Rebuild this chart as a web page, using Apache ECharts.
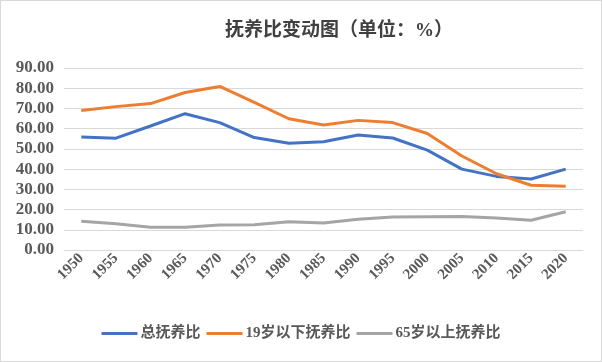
<!DOCTYPE html>
<html><head><meta charset="utf-8">
<script src="https://cdn.jsdelivr.net/npm/echarts@6/dist/echarts.min.js"></script>
<style>html,body{margin:0;padding:0;background:#fff}#c{width:602px;height:362px;box-sizing:border-box;border:1px solid #d9d9d9}</style>
</head><body><div id="c"></div>
<script>
const years = ['1950','1955','1960','1965','1970','1975','1980','1985','1990','1995','2000','2005','2010','2015','2020'];
const total = [55.9,55.3,61.3,67.4,63.0,55.6,52.8,53.5,56.9,55.4,49.4,40.0,36.4,35.1,40.0];
const under19 = [69.0,70.9,72.4,77.9,80.9,73.0,64.9,61.8,64.1,63.0,57.6,46.5,37.7,32.0,31.5];
const over65 = [14.2,13.0,11.3,11.3,12.4,12.5,14.0,13.4,15.2,16.3,16.5,16.6,15.8,14.7,18.9];
const seriesNames = ['总抚养比','19岁以下抚养比','65岁以上抚养比'];
const colors = ['#4472C4','#ED7D31','#A5A5A5'];
const FONT = "'Liberation Serif', 'DejaVu Serif', 'Noto Sans CJK SC', serif";
const chart = echarts.init(document.getElementById('c'));
chart.setOption({
  animation:false,
  title:{text:'抚养比变动图（单位：%）',left:219,top:16,textStyle:{fontFamily:FONT,fontSize:19,fontWeight:'bold',color:'#404040'}},
  grid:{left:63,right:18,top:67,bottom:111,containLabel:false},
  legend:{bottom:15,left:'center',itemWidth:36,itemHeight:3,itemGap:6,icon:'rect',
    textStyle:{fontFamily:FONT,fontSize:15,fontWeight:'bold',color:'#595959',padding:[0,0,0,-2]},
    data:seriesNames},
  xAxis:{type:'category',data:years,boundaryGap:true,
    axisLine:{show:true,lineStyle:{color:'#d9d9d9'}},axisTick:{show:false},
    axisLabel:{rotate:45,fontFamily:FONT,fontSize:15,fontWeight:'bold',color:'#595959',margin:6,interval:0}},
  yAxis:{type:'value',min:0,max:90,interval:10,
    axisLine:{show:false},axisTick:{show:false},
    splitLine:{lineStyle:{color:'#d9d9d9',width:1}},
    axisLabel:{formatter:v=>v.toFixed(2),fontFamily:FONT,fontSize:17,fontWeight:'bold',color:'#595959',margin:10}},
  series:[total,under19,over65].map((d,i)=>({name:seriesNames[i],type:'line',data:d,showSymbol:false,symbol:'none',
    lineStyle:{width:3,color:colors[i]},itemStyle:{color:colors[i]}}))
});
</script></body></html>
